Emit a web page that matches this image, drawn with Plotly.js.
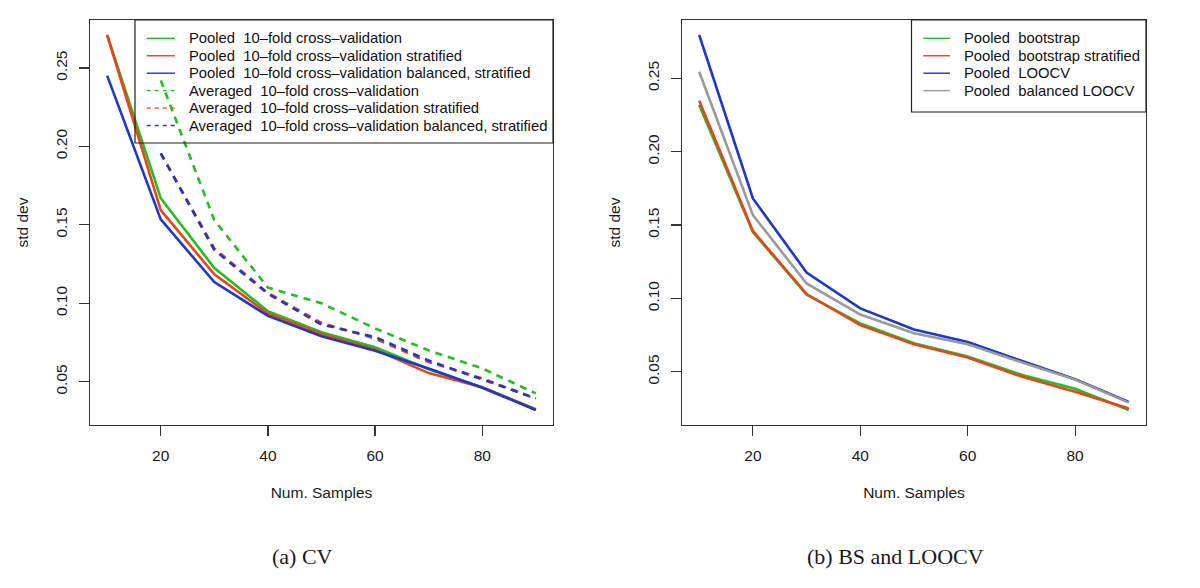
<!DOCTYPE html>
<html>
<head>
<meta charset="utf-8">
<script src="https://cdn.plot.ly/plotly-3.0.1.min.js"></script>
<style>html,body{margin:0;padding:0;background:#fff}#chart{width:1200px;height:588px}</style>
</head>
<body>
<div id="chart"></div>
<script>
// ---- data ----
const samples = [10, 20, 30, 40, 50, 60, 70, 80, 90];
const avgSamples = [20, 30, 40, 50, 60, 70, 80, 90];

// (a) CV
const cvNames = [
  "Pooled  10\u2013fold cross\u2013validation",
  "Pooled  10\u2013fold cross\u2013validation stratified",
  "Pooled  10\u2013fold cross\u2013validation balanced, stratified",
  "Averaged  10\u2013fold cross\u2013validation",
  "Averaged  10\u2013fold cross\u2013validation stratified",
  "Averaged  10\u2013fold cross\u2013validation balanced, stratified"
];
const pooledCV         = [0.2710, 0.1670, 0.1225, 0.0950, 0.0815, 0.0720, 0.0580, 0.0465, 0.0325];
const pooledCVStrat    = [0.2710, 0.1594, 0.1185, 0.0935, 0.0805, 0.0705, 0.0555, 0.0465, 0.0322];
const pooledCVBalStrat = [0.2451, 0.1535, 0.1135, 0.0920, 0.0790, 0.0698, 0.0585, 0.0462, 0.0320];
const avgCV            = [0.2421, 0.1530, 0.1100, 0.1000, 0.0840, 0.0700, 0.0585, 0.0426];
const avgCVStrat       = [0.1956, 0.1350, 0.1066, 0.0875, 0.0775, 0.0625, 0.0522, 0.0392];
const avgCVBalStrat    = [0.1956, 0.1340, 0.1062, 0.0865, 0.0785, 0.0635, 0.0515, 0.0394];

// (b) BS and LOOCV
const bsNames = [
  "Pooled  bootstrap",
  "Pooled  bootstrap stratified",
  "Pooled  LOOCV",
  "Pooled  balanced LOOCV"
];
const bootstrap      = [0.2318, 0.1452, 0.1025, 0.0830, 0.0695, 0.0605, 0.0480, 0.0385, 0.0240];
const bootstrapStrat = [0.2347, 0.1460, 0.1030, 0.0818, 0.0688, 0.0598, 0.0468, 0.0365, 0.0250];
const loocv          = [0.2795, 0.1681, 0.1177, 0.0932, 0.0788, 0.0704, 0.0575, 0.0450, 0.0295];
const balLoocv       = [0.2545, 0.1568, 0.1102, 0.0890, 0.0763, 0.0688, 0.0565, 0.0447, 0.0290];

const xTitle = "Num. Samples";
const yTitle = "std dev";
const captions = ["(a) CV", "(b) BS and LOOCV"];

// ---- styles ----
const GREEN = "#1FC01F", RED = "#E8441E", BLUE = "#1E38C8", GRAY = "#9A9A9A";
const W = 1200, H = 588;
const px = x => x / W, py = y => 1 - y / H;

function rng(arrs, pad) {
  const all = [].concat(...arrs);
  const lo = Math.min(...all), hi = Math.max(...all), s = (hi - lo) * pad;
  return [lo - s, hi + s];
}

const cvSeries = [
  {x: samples, y: pooledCV, c: GREEN, d: "solid"},
  {x: samples, y: pooledCVStrat, c: RED, d: "solid"},
  {x: samples, y: pooledCVBalStrat, c: BLUE, d: "solid"},
  {x: avgSamples, y: avgCV, c: GREEN, d: "7px,6px"},
  {x: avgSamples, y: avgCVStrat, c: RED, d: "7px,6px"},
  {x: avgSamples, y: avgCVBalStrat, c: BLUE, d: "7px,6px"}
];
const bsSeries = [
  {x: samples, y: loocv, c: BLUE, d: "solid", i: 2},
  {x: samples, y: balLoocv, c: GRAY, d: "solid", i: 3},
  {x: samples, y: bootstrap, c: GREEN, d: "solid", i: 0},
  {x: samples, y: bootstrapStrat, c: RED, d: "solid", i: 1}
];

const traces = [];
cvSeries.forEach((s, i) => traces.push({
  x: s.x, y: s.y, name: cvNames[i], type: "scatter", mode: "lines",
  line: {color: s.c, width: 2.6, dash: s.d}, xaxis: "x", yaxis: "y", showlegend: false
}));
bsSeries.forEach(s => traces.push({
  x: s.x, y: s.y, name: bsNames[s.i], type: "scatter", mode: "lines",
  line: {color: s.c, width: 2.6, dash: s.d}, xaxis: "x2", yaxis: "y2", showlegend: false
}));

const axFont = {family: "Liberation Sans, Arial, sans-serif", size: 15.5, color: "#1a1a1a"};
function xax(dom, anchor) {
  return {
    domain: dom, anchor: anchor, range: [6.8, 93.2], tickmode: "linear", tick0: 0, dtick: 20,
    ticks: "outside", ticklen: 10, tickwidth: 1.2, tickcolor: "#333",
    showline: true, linecolor: "#333", linewidth: 1.4, mirror: true,
    showgrid: false, zeroline: false, tickfont: axFont, ticklabelstandoff: 6,
    title: {text: xTitle, font: axFont, standoff: 24}
  };
}
function yax(dom, anchor, r) {
  return {
    domain: dom, anchor: anchor, range: r, tickmode: "linear", tick0: 0, dtick: 0.05,
    tickformat: ".2f", tickangle: -90,
    ticks: "outside", ticklen: 10, tickwidth: 1.2, tickcolor: "#333",
    showline: true, linecolor: "#333", linewidth: 1.4, mirror: true,
    showgrid: false, zeroline: false, tickfont: axFont, ticklabelstandoff: 5,
    title: {text: yTitle, font: axFont, standoff: 21}
  };
}

const yDom = [py(425), py(20)];
const layout = {
  width: W, height: H,
  margin: {l: 0, r: 0, t: 0, b: 0, pad: 0},
  paper_bgcolor: "#fff", plot_bgcolor: "#fff",
  showlegend: false,
  font: axFont,
  xaxis: xax([px(90), px(553)], "y"),
  yaxis: yax(yDom, "x", rng([pooledCV, pooledCVStrat, pooledCVBalStrat, avgCV, avgCVStrat, avgCVBalStrat], 0.04)),
  xaxis2: xax([px(682), px(1146)], "y2"),
  yaxis2: yax(yDom, "x2", rng([bootstrap, bootstrapStrat, loocv, balLoocv], 0.04)),
  shapes: [],
  annotations: []
};

// legends (transparent box, like R legend())
const legFont = {family: "Liberation Sans, Arial, sans-serif", size: 14.8, color: "#111"};
function addLegend(box, names, styles, rowY0, rowDy, lineX0, lineX1, textX) {
  layout.shapes.push({type: "rect", xref: "paper", yref: "paper",
    x0: px(box[0]), x1: px(box[1]), y0: py(box[3]), y1: py(box[2]),
    line: {color: "#222", width: 1.2}, fillcolor: "rgba(0,0,0,0)", layer: "above"});
  names.forEach((n, i) => {
    const y = rowY0 + i * rowDy;
    layout.shapes.push({type: "line", xref: "paper", yref: "paper",
      x0: px(lineX0), x1: px(lineX1), y0: py(y), y1: py(y),
      line: {color: styles[i].c, width: 1.4, dash: styles[i].d === "solid" ? "solid" : "4px,4px"}});
    layout.annotations.push({xref: "paper", yref: "paper", x: px(textX), y: py(y),
      xanchor: "left", yanchor: "middle", showarrow: false, text: n, font: legFont});
  });
}
addLegend([135, 553, 20, 143], cvNames, cvSeries, 38.3, 17.45, 146.7, 175, 186.5);
const bsStyles = [{c: GREEN, d: "solid"}, {c: RED, d: "solid"}, {c: BLUE, d: "solid"}, {c: GRAY, d: "solid"}];
addLegend([911.5, 1146, 20, 112], bsNames, bsStyles, 38.3, 17.45, 923.3, 950, 961.5);

// sub-figure captions
const capFont = {family: "Liberation Serif, Times New Roman, serif", size: 22, color: "#1a1a1a"};
[[302.5, captions[0]], [895, captions[1]]].forEach(([x, t]) => layout.annotations.push({
  xref: "paper", yref: "paper", x: px(x), y: py(556), xanchor: "center", yanchor: "middle",
  showarrow: false, text: t, font: capFont
}));

Plotly.newPlot("chart", traces, layout, {staticPlot: true, displayModeBar: false});
</script>
</body>
</html>
